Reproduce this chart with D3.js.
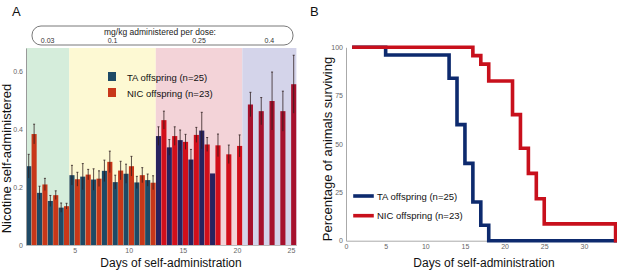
<!DOCTYPE html>
<html>
<head>
<meta charset="utf-8">
<script src="https://cdn.jsdelivr.net/npm/d3@7"></script>
<style>
  body { margin: 0; background: #fff; }
  svg { display: block; font-family: "Liberation Sans", Arial, sans-serif; }
  .tick text { fill: #666; font-size: 7px; }
</style>
</head>
<body>
<svg id="chart" width="617" height="271"></svg>
<script>
// ---- panel A data ----
const days = [1,2,3,4,5,6,7,8,9,10,11,12,13,14,15,16,17,18,19,20,21,22,23,24,25];
const taMean = [0.272,0.180,0.152,0.129,0.241,0.236,0.226,0.256,0.217,0.246,0.216,0.224,0.376,0.337,0.362,0.295,0.395,0.247];
const taErr  = [0.041,0.023,0.019,0.016,0.034,0.045,0.037,0.037,0.024,0.033,0.021,0.021,0.032,0.027,0.035,0.035,0.063,0];
const nicMean = [0.383,0.209,0.172,0.134,0.227,0.243,0.229,0.287,0.257,0.272,0.241,0.215,0.431,0.376,0.356,0.380,0.347,0.344,0.313,0.342,0.485,0.462,0.497,0.462,0.555];
const nicErr  = [0.034,0.021,0.015,0.010,0.024,0.018,0.027,0.037,0.032,0.034,0.026,0.024,0.031,0.032,0.026,0.026,0.024,0.039,0.032,0.038,0.042,0.047,0.100,0.069,0.100];
const doseLabels = ["0.03","0.1","0.25","0.4"];
const doseStart = [0.5,4.5,12.5,20.5];
const doseEnd   = [4.5,12.5,20.5,25.5];
const yTicksA = [0,0.2,0.4,0.6];
const xTicksA = [5,10,15,20,25];

// ---- panel B data ----
const taDays  = [1,5,13,14,15,16,17,18,34];
const taSurv  = [100,96,84,60,40,20,8,0,0];
const nicDays = [1,16,17,18,21,22,23,24,25,34,34];
const nicSurv = [100,95.7,91.3,82.6,65.2,47.8,34.8,21.7,8.7,8.7,0];
const yTicksB = [0,25,50,75,100];
const xTicksB = [0,5,10,15,20,25,30];

const seriesNames = ["TA offspring (n=25)", "NIC offspring (n=23)"];

// styles
const bgCol  = ["#d5eddb","#fdf9d3","#f3d3d8","#d4d4ea"];
const taCol  = ["#1e4a66","#1e4a66","#28225f","#28225f"];
const nicCol = ["#c83719","#c83719","#d20f1b","#a6112d"];
const lineCol = ["#0d2a6e","#c8101c"];

const svg = d3.select("#chart");

function phaseOf(day){
  return doseStart.findIndex((s, i) => day > s && day < doseEnd[i]);
}

// ================= Panel A =================
const xA = d3.scaleLinear().domain([0.5, 25.5]).range([26, 296.4]);
const yA = d3.scaleLinear().domain([0, 0.68]).range([245, 48]);
const gA = svg.append("g");

gA.selectAll("rect.bg")
  .data(doseLabels)
  .join("rect")
  .attr("class", "bg")
  .attr("x", (d, i) => xA(doseStart[i]))
  .attr("width", (d, i) => xA(doseEnd[i]) - xA(doseStart[i]))
  .attr("y", yA(0.68))
  .attr("height", yA(0) - yA(0.68))
  .attr("fill", (d, i) => bgCol[i]);

// dose header box
gA.append("rect")
  .attr("x", 32).attr("y", 26).attr("width", 261).attr("height", 19)
  .attr("rx", 9).attr("ry", 9)
  .attr("fill", "none").attr("stroke", "#555").attr("stroke-width", 0.8);
gA.append("text")
  .attr("x", 160).attr("y", 34.5)
  .attr("text-anchor", "middle")
  .attr("font-size", 8.5).attr("fill", "#222")
  .text("mg/kg administered per dose:");
gA.selectAll("text.dose")
  .data(doseLabels)
  .join("text")
  .attr("class", "dose")
  .attr("x", (d, i) => xA((doseStart[i] + doseEnd[i]) / 2))
  .attr("y", 42.5)
  .attr("text-anchor", "middle")
  .attr("font-size", 7).attr("fill", "#333")
  .text(d => d);

const bw = (xA(1) - xA(0)) / 2 - 0.3;

const taData = taMean.map((m, i) => ({day: days[i], m, e: taErr[i]}));
const nicData = nicMean.map((m, i) => ({day: days[i], m, e: nicErr[i]}));

gA.selectAll("rect.ta")
  .data(taData)
  .join("rect")
  .attr("class", "ta")
  .attr("x", d => xA(d.day) - bw - 0.15)
  .attr("width", bw)
  .attr("y", d => yA(d.m))
  .attr("height", d => yA(0) - yA(d.m))
  .attr("fill", d => taCol[phaseOf(d.day)]);

gA.selectAll("rect.nic")
  .data(nicData)
  .join("rect")
  .attr("class", "nic")
  .attr("x", d => xA(d.day) + 0.15)
  .attr("width", bw)
  .attr("y", d => yA(d.m))
  .attr("height", d => yA(0) - yA(d.m))
  .attr("fill", d => nicCol[phaseOf(d.day)]);

// error bars
function errBars(data, offset){
  const g = gA.append("g").attr("stroke", "#2a1a1a").attr("stroke-width", 0.9).attr("stroke-opacity", 0.85);
  const ed = data.filter(d => d.e > 0);
  g.selectAll("line.v").data(ed).join("line")
    .attr("x1", d => xA(d.day) + offset).attr("x2", d => xA(d.day) + offset)
    .attr("y1", d => yA(d.m - d.e)).attr("y2", d => yA(d.m + d.e));
  g.selectAll("line.c").data(ed).join("line")
    .attr("x1", d => xA(d.day) + offset - 1).attr("x2", d => xA(d.day) + offset + 1)
    .attr("y1", d => yA(d.m + d.e)).attr("y2", d => yA(d.m + d.e));
}
errBars(taData, -bw / 2 - 0.15);
errBars(nicData, bw / 2 + 0.15);

// axes A
const axYA = gA.append("g")
  .attr("transform", `translate(${xA(0.5)},0)`)
  .call(d3.axisLeft(yA).tickValues(yTicksA).tickSize(0).tickPadding(3)
    .tickFormat(d => d === 0 ? "0" : d3.format(".1f")(d)));
axYA.select(".domain").attr("stroke", "#999");
const axXA = gA.append("g")
  .attr("transform", `translate(0,${yA(0)})`)
  .call(d3.axisBottom(xA).tickValues(xTicksA).tickSize(0).tickPadding(3));
axXA.select(".domain").attr("stroke", "#bbb");

// legend A
const legA = gA.append("g");
seriesNames.forEach((name, i) => {
  legA.append("rect")
    .attr("x", 108).attr("y", 72 + i * 16).attr("width", 8).attr("height", 9)
    .attr("fill", i === 0 ? taCol[0] : nicCol[0]);
  legA.append("text")
    .attr("x", 127).attr("y", 80.5 + i * 16)
    .attr("font-size", 9.5).attr("fill", "#111")
    .text(name);
});

// titles A
gA.append("text").attr("x", 12).attr("y", 16).attr("font-size", 13).attr("fill", "#111").text("A");
gA.append("text")
  .attr("transform", `translate(11,${(yA(0) + yA(0.68)) / 2 + 12}) rotate(-90)`)
  .attr("text-anchor", "middle").attr("font-size", 13).attr("fill", "#111")
  .text("Nicotine self-administered");
gA.append("text")
  .attr("x", 171).attr("y", 266.5)
  .attr("text-anchor", "middle").attr("font-size", 12).attr("fill", "#111")
  .text("Days of self-administration");

// ================= Panel B =================
const xB = d3.scaleLinear().domain([0, 34]).range([346, 615.6]);
const yB = d3.scaleLinear().domain([0, 100]).range([240.7, 47.3]);
const gB = svg.append("g");

const axYB = gB.append("g")
  .attr("transform", `translate(${xB(0)},0)`)
  .call(d3.axisLeft(yB).tickValues(yTicksB).tickSize(0).tickPadding(3));
axYB.select(".domain").attr("stroke", "#aaa");
const axXB = gB.append("g")
  .attr("transform", `translate(0,${yB(0)})`)
  .call(d3.axisBottom(xB).tickValues(xTicksB).tickSize(0).tickPadding(3));
axXB.select(".domain").attr("stroke", "#aaa");

const step = d3.line().x(d => xB(d[0])).y(d => yB(d[1])).curve(d3.curveStepAfter);
const curves = [d3.zip(taDays, taSurv), d3.zip(nicDays, nicSurv)];
gB.selectAll("path.surv")
  .data(curves)
  .join("path")
  .attr("class", "surv")
  .attr("d", step)
  .attr("fill", "none")
  .attr("stroke", (d, i) => lineCol[i])
  .attr("stroke-width", 3.6)
  .attr("stroke-linecap", "square")
  .attr("stroke-linejoin", "miter");

// legend B
seriesNames.forEach((name, i) => {
  gB.append("line")
    .attr("x1", 355).attr("x2", 372)
    .attr("y1", 196 + i * 19.7).attr("y2", 196 + i * 19.7)
    .attr("stroke", lineCol[i]).attr("stroke-width", 3.6).attr("stroke-linecap", "square");
  gB.append("text")
    .attr("x", 377).attr("y", 199.5 + i * 19.7)
    .attr("font-size", 9.5).attr("fill", "#111")
    .text(name);
});

gB.append("text").attr("x", 310).attr("y", 16).attr("font-size", 13).attr("fill", "#111").text("B");
gB.append("text")
  .attr("transform", `translate(332,149) rotate(-90)`)
  .attr("text-anchor", "middle").attr("font-size", 13).attr("fill", "#111")
  .text("Percentage of animals surviving");
gB.append("text")
  .attr("x", 484).attr("y", 266.5)
  .attr("text-anchor", "middle").attr("font-size", 12).attr("fill", "#111")
  .text("Days of self-administration");
</script>
</body>
</html>
